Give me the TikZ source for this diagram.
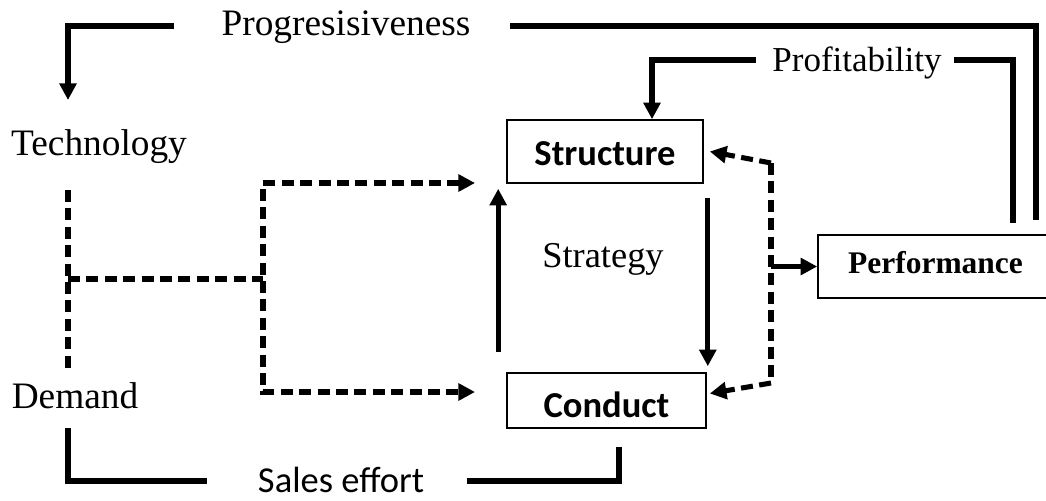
\documentclass[tikz,border=0pt]{standalone}
\usepackage{fontspec}
\setmainfont{Liberation Serif}
\newfontfamily\calibri{Carlito}
\usetikzlibrary{arrows.meta,calc}
\begin{document}
\begin{tikzpicture}[x=0.75pt,y=-0.75pt,
  >={Triangle[length=12.5pt,width=12.5pt]},
  thickline/.style={line width=3.8pt},
  arr/.style={thickline,->},
  dsh/.style={line width=3.8pt,dash pattern=on 9pt off 4.8pt},
  box/.style={draw,line width=1.2pt,inner sep=0pt,text depth=0pt},
  lbl/.style={inner sep=0pt,anchor=base,font=\fontsize{28}{32}\selectfont},
  sanslbl/.style={inner sep=0pt,anchor=base,font=\calibri\fontsize{27.4}{30}\selectfont},
  bsans/.style={font=\calibri\bfseries\fontsize{27.4}{30}\selectfont},
  bserif/.style={font=\bfseries\fontsize{23.6}{28}\selectfont}]
\useasboundingbox (0,0) rectangle (1046,500);
\clip (0,0) rectangle (1046,500);

% text labels
\node[lbl] (prog) at (346,35) {Progresisiveness};
\node[lbl] (tech) at (99,155) {Technology};
\node[lbl] (dem) at (75,408) {Demand};
\node[lbl,font=\fontsize{26.25}{30}\selectfont] (profit) at (857,71) {Profitability};
\node[lbl,font=\fontsize{27.3}{30}\selectfont] (strat) at (603,267) {Strategy};
\node[sanslbl] (sales) at (341,492) {Sales effort};

% boxes
\node[box,bsans,minimum width=147pt,minimum height=47.25pt,text height=20.25pt] (struct) at (605,151.5) {Structure};
\node[box,bsans,minimum width=149.25pt,minimum height=41.25pt,text height=24.75pt] (cond) at (606.5,400.5) {Conduct};
\node[box,bserif,minimum width=176.25pt,minimum height=47.25pt,text height=9.75pt] (perf) at (935.5,266.5) {Performance};

% progressiveness loop
\coordinate (pL) at (174,26);
\coordinate (tT) at (68,100);
\draw[arr] (pL) -| (tT);
\coordinate (pR) at (510,26);
\coordinate (pRe) at (1036,220);
\draw[thickline] (pR) -| (pRe);

% profitability loop
\coordinate (fL) at (756,60);
\draw[arr] (fL) -| ($(struct.north)+(47,0)$);
\coordinate (fR) at (954,60);
\coordinate (fRe) at (1013,223);
\draw[thickline] (fR) -| (fRe);

% strategy arrows
\draw[arr] ($(cond.north west)+(-8,-20)$) -- ($(struct.south west)+(-8,5)$);
\draw[arr] ($(struct.south east)+(4,14)$) -- ($(cond.north east)+(1,-6)$);

% dashed left connectors
\coordinate (dl1) at (68,190);
\coordinate (dl2) at (68,372);
\coordinate (dm) at (68,279);
\coordinate (dv1) at (263,183);
\coordinate (dv2) at (263,392);
\coordinate (dt1) at (475,183);
\coordinate (dt2) at (475,392);
\draw[dsh] (dl1) -- (dl2);
\draw[dsh] (dm) -- (dm -| dv1);
\draw[dsh,<->] (dt1) -- (dv1) -- (dv2) -- (dt2);

% dashed right connectors
\coordinate (rt) at (771,163);
\coordinate (rb) at (771,383);
\coordinate (rm) at (771,268);
\draw[dsh] (rt) -- (rb);
\draw[dsh,->] (rt) -- ($(struct.east)+(6,0)$);
\draw[dsh,->] (rb) -- ($(cond.east)+(3,-7)$);
\draw[arr] (rm |- perf.west) -- (perf.west);

% sales effort
\coordinate (s1) at (68,428);
\coordinate (s2) at (207,481);
\draw[thickline] (s1) |- (s2);
\coordinate (s3) at (467,481);
\coordinate (s4) at (619,447);
\draw[thickline] (s3) -| (s4);
\end{tikzpicture}
\end{document}
